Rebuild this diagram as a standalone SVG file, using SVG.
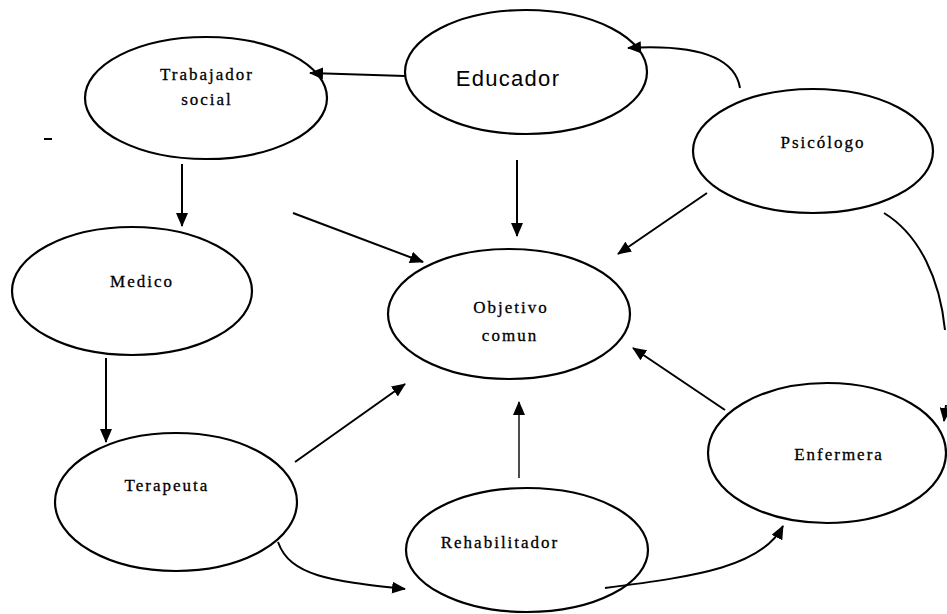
<svg xmlns="http://www.w3.org/2000/svg" width="947" height="614" viewBox="0 0 947 614">
<style>
.node ellipse{fill:#fff;stroke:#000;stroke-width:2.2}
.lbl{font-family:"Liberation Serif","Times New Roman",serif;font-size:17px;letter-spacing:2px;fill:#000;stroke:#000;stroke-width:0.3;text-anchor:middle}
.big{font-family:"Liberation Sans",Arial,sans-serif;font-size:22px;letter-spacing:1.3px;fill:#000;text-anchor:middle}
.c{fill:none;stroke:#000;stroke-width:2}
.thin{fill:none;stroke:#000;stroke-width:1.4}
</style>
<defs>
<marker id="ah" viewBox="0 0 14 12" refX="13" refY="6" markerWidth="14" markerHeight="12" markerUnits="userSpaceOnUse" orient="auto">
<path d="M0,0 L14,6 L0,12 Z" fill="#000"/>
</marker>
</defs>
<rect width="947" height="614" fill="#fff"/>
<g id="trabajador" class="node">
<ellipse cx="206" cy="98" rx="121" ry="61"/>
<text class="lbl" x="207" y="80">Trabajador</text>
<text class="lbl" x="207" y="105">social</text>
</g>
<g id="educador" class="node">
<ellipse cx="526" cy="72" rx="121" ry="62"/>
<text class="big" x="508" y="86">Educador</text>
</g>
<g id="psicologo" class="node">
<ellipse cx="813" cy="151" rx="120" ry="62"/>
<text class="lbl" x="823" y="148">Psicólogo</text>
</g>
<g id="medico" class="node">
<ellipse cx="132" cy="291" rx="120" ry="64"/>
<text class="lbl" x="142" y="287">Medico</text>
</g>
<g id="objetivo" class="node">
<ellipse cx="509" cy="314" rx="121" ry="65"/>
<text class="lbl" x="511" y="313">Objetivo</text>
<text class="lbl" x="510" y="341">comun</text>
</g>
<g id="terapeuta" class="node">
<ellipse cx="176" cy="502" rx="121" ry="69"/>
<text class="lbl" x="167" y="491">Terapeuta</text>
</g>
<g id="rehabilitador" class="node">
<ellipse cx="527" cy="550" rx="121" ry="62"/>
<text class="lbl" x="500" y="548">Rehabilitador</text>
</g>
<g id="enfermera" class="node">
<ellipse cx="827" cy="453" rx="119" ry="70"/>
<text class="lbl" x="839" y="460">Enfermera</text>
</g>
<g id="connectors">
<path class="c" d="M405,76 L310,73" marker-end="url(#ah)"/>
<path class="c" d="M740,88 C735,58 700,44 628,48" marker-end="url(#ah)"/>
<path class="c" d="M517,160 L517,236" marker-end="url(#ah)"/>
<path class="c" d="M182,164 L182,226" marker-end="url(#ah)"/>
<path class="c" d="M293,213 L423,262" marker-end="url(#ah)"/>
<path class="c" d="M707,193 L618,254" marker-end="url(#ah)"/>
<path class="c" d="M884,213 C920,235 940,280 945,330"/>
<path class="c" d="M946,405 L944,421" marker-end="url(#ah)"/>
<path class="c" d="M106,358 L106,442" marker-end="url(#ah)"/>
<path class="c" d="M295,462 L405,384" marker-end="url(#ah)"/>
<path class="thin" d="M519,478 L519,402" marker-end="url(#ah)"/>
<path class="c" d="M725,410 L633,348" marker-end="url(#ah)"/>
<path class="c" d="M278,542 C290,576 330,581 405,589" marker-end="url(#ah)"/>
<path class="c" d="M605,588 C700,576 762,566 783,526" marker-end="url(#ah)"/>
<path class="c" d="M44,139 L52,139"/>
</g>
</svg>
